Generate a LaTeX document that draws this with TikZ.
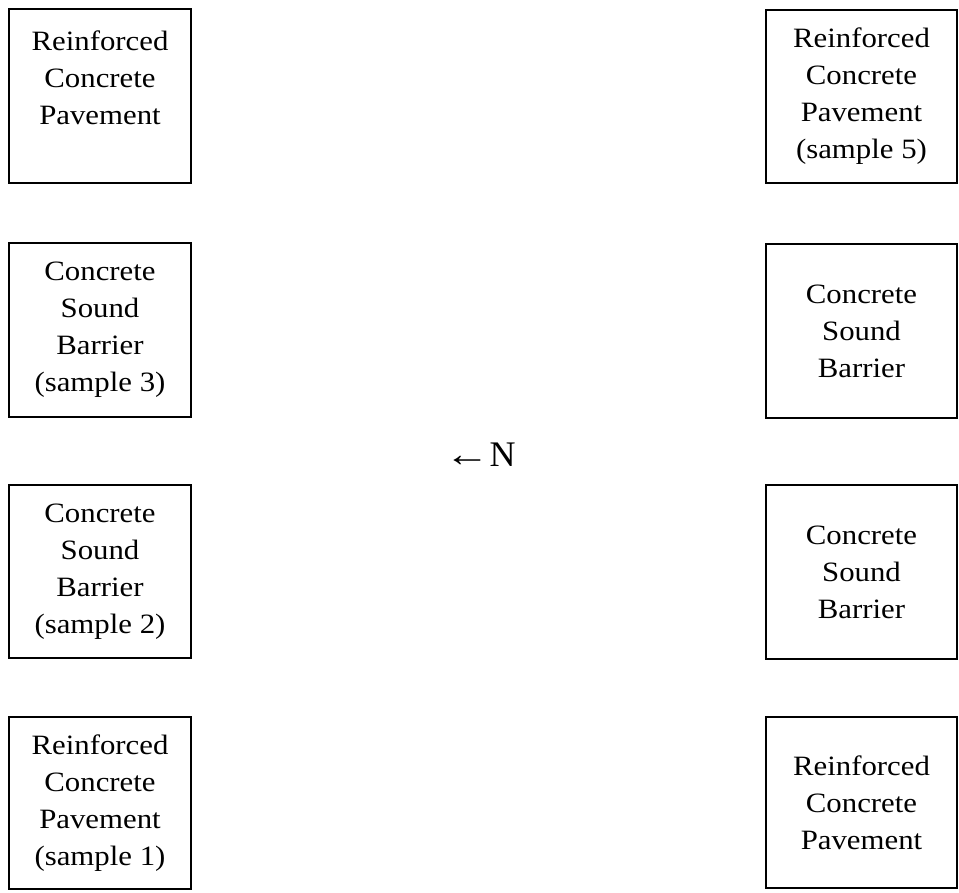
\documentclass[tikz,border=0pt]{standalone}
\usepackage{graphicx}
\usepackage{fontspec}
\setmainfont[FakeStretch=1.1]{Liberation Serif}
\newfontfamily\arrowfont{Liberation Serif}
\begin{document}
\begin{tikzpicture}[x=1pt,y=-1pt,
  sbox/.style={draw=black, line width=1.6pt, align=center, inner sep=0pt,
    font=\fontsize{28}{37}\selectfont},
  lbox/.style={sbox, minimum width=182pt, minimum height=174pt},
  rbox/.style={sbox, minimum width=191pt, minimum height=174pt}]
\useasboundingbox (0,0) rectangle (959,893);
% left column
\node[lbox] (l1) at (100,96) {Reinforced\\Concrete\\Pavement\\\mbox{}};
\node[lbox] (l2) at (100,330) {Concrete\\Sound\\Barrier\\(sample 3)};
\node[lbox, minimum height=173pt] (l3) at (100,571.5) {Concrete\\Sound\\Barrier\\(sample 2)};
\node[lbox, minimum height=172pt] (l4) at (100,803) {Reinforced\\Concrete\\Pavement\\(sample 1)};
% right column
\node[rbox, minimum height=173pt] (r1) at (861.5,96.5) {Reinforced\\Concrete\\Pavement\\(sample 5)};
\node[rbox] (r2) at (861.5,331) {Concrete\\Sound\\Barrier};
\node[rbox] (r3) at (861.5,572) {Concrete\\Sound\\Barrier};
\node[rbox, minimum height=171pt] (r4) at (861.5,802.5) {Reinforced\\Concrete\\Pavement};
% north marker
\node[font=\arrowfont\fontsize{36}{40}\selectfont, inner sep=0pt] (north) at (480,455)
  {\scalebox{1.25}[1]{←}N};
\end{tikzpicture}
\end{document}
